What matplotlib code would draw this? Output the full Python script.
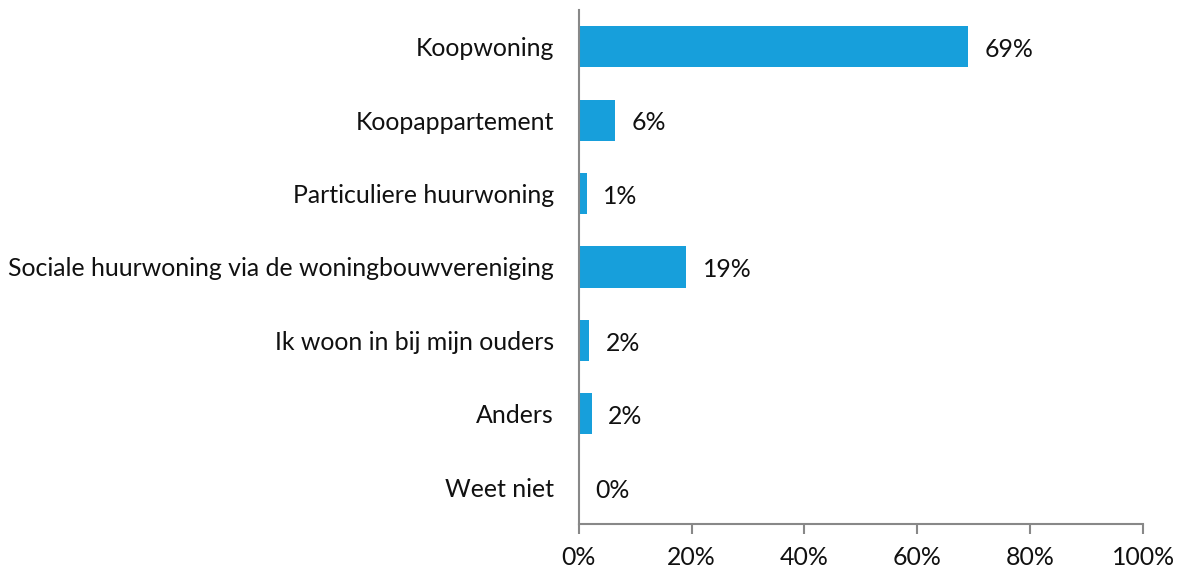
import matplotlib
matplotlib.use("Agg")
import matplotlib.pyplot as plt
from matplotlib.ticker import FuncFormatter

categories = ["Koopwoning", "Koopappartement", "Particuliere huurwoning",
              "Sociale huurwoning via de woningbouwvereniging",
              "Ik woon in bij mijn ouders", "Anders", "Weet niet"]
values = [0.69, 0.064, 0.014, 0.19, 0.018, 0.023, 0.0]
value_labels = ["69%", "6%", "1%", "19%", "2%", "2%", "0%"]

plt.rcParams['font.family'] = ['Lato', 'DejaVu Sans']
fs = 17.9
fig = plt.figure(figsize=(11.81, 5.71), dpi=100)
ax = fig.add_axes([0.490, 0.0823, 0.478, 0.9002])
y = list(range(len(categories)))
ax.barh(y, values, height=0.56, color="#179FDB")
ax.set_ylim(len(categories) - 0.5, -0.5)
ax.set_xlim(0, 1)
ax.set_yticks(y)
ax.set_yticklabels(categories, fontsize=fs, color="#111111")
ax.set_xticks([0, 0.2, 0.4, 0.6, 0.8, 1.0])
ax.xaxis.set_major_formatter(FuncFormatter(lambda v, p: f"{v*100:.0f}%"))
ax.tick_params(axis='x', labelsize=fs, length=7, width=1.5, color="#888888", pad=9, labelcolor="#111111")
ax.tick_params(axis='y', length=0, pad=18)
for s in ["top", "right"]:
    ax.spines[s].set_visible(False)
for s in ["left", "bottom"]:
    ax.spines[s].set_color("#888888")
    ax.spines[s].set_linewidth(1.5)
for yi, v, lab in zip(y, values, value_labels):
    ax.annotate(lab, (v, yi), xytext=(12, -2), textcoords="offset points",
                va="center", ha="left", fontsize=fs, color="#111111")
fig.savefig("out.png", dpi=100)
